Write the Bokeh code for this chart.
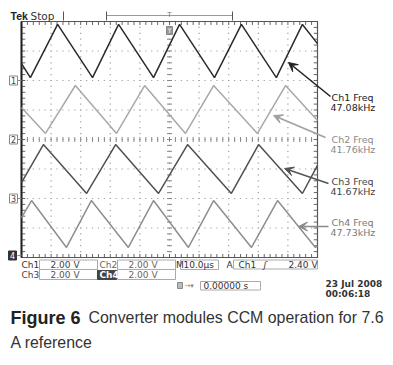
import numpy as np
from bokeh.plotting import figure
from bokeh.models import Range1d, Arrow, VeeHead
from bokeh.core.properties import value
from bokeh.embed import file_html
from bokeh.resources import INLINE

# ---------------- data ----------------
# time in microseconds, amplitude in volts (relative to each channel's ground marker)
ch1_time_us = [0, 3.0, 12.2, 24.0, 32.8, 44.6, 53.4, 65.2, 74.3, 86.1, 94.9, 100]
ch1_volts = [1.15, 0.2, 3.8, 0.2, 3.8, 0.2, 3.8, 0.2, 3.8, 0.2, 3.8, 2.5]

ch2_time_us = [0, 8.1, 18.2, 32.1, 41.6, 55.4, 64.9, 79.7, 89.2, 100]
ch2_volts = [2.17, 0.41, 3.66, 0.41, 3.66, 0.41, 3.66, 0.41, 3.66, 1.29]

ch3_time_us = [0, 7.4, 22.0, 31.8, 46.3, 56.1, 70.9, 80.1, 94.9, 100]
ch3_volts = [1.08, 3.66, 0.34, 3.66, 0.34, 3.66, 0.34, 3.66, 0.34, 2.24]

ch4_time_us = [0, 3.4, 15.2, 23.6, 36.1, 44.6, 56.4, 64.9, 77.7, 86.5, 99.3, 100]
ch4_volts = [2.71, 3.86, 0.68, 3.86, 0.68, 3.86, 0.68, 3.86, 0.68, 3.86, 0.68, 0.8]

channel_names = ["Ch1", "Ch2", "Ch3", "Ch4"]
channel_numbers = ["1", "2", "3", "4"]
channel_freqs = ["47.08kHz", "41.76kHz", "41.67kHz", "47.73kHz"]
channel_ground_div = [2, 0, -2, -4]
channel_volts_per_div = [2.00, 2.00, 2.00, 2.00]
volts_per_div_text = ["2.00 V", "2.00 V", "2.00 V", "2.00 V"]
time_per_div_us = 10.0
time_per_div_text = "10.0\u00b5s"
n_hdiv, n_vdiv = 10, 8
trigger_text = ["A", "Ch1", "\u0283", "2.40 V"]
trigger_offset_text = "0.00000 s"
date_text = "23 Jul  2008"
clock_text = "00:06:18"
caption_bold = "Figure 6"
caption_rest = "Converter modules CCM operation for 7.6"
caption_line2 = "A reference"

# ---------------- layout (page pixels) ----------------
W, H = 393, 360
PAGE = 0
GX0, GY0 = 21, 21
DIV_W, DIV_H = 29.6, 29.5
PX_PER_US = DIV_W / time_per_div_us
CY = GY0 + DIV_H * n_vdiv / 2


def X(px):
    return (px - GX0) / PX_PER_US


def Y(py):
    return (CY - py) / DIV_H


p = figure(width=W, height=H, output_backend="svg", toolbar_location=None,
           x_axis_type=None, y_axis_type=None,
           x_range=Range1d(X(PAGE), X(PAGE + W)), y_range=Range1d(Y(PAGE + H), Y(PAGE)),
           min_border=0, background_fill_color="white", border_fill_color="white")
p.outline_line_color = None

t_end = time_per_div_us * n_hdiv
half = n_vdiv / 2

# dotted graticule
for k in range(1, n_hdiv):
    xs = np.full(int(n_vdiv * 5) + 1, k * time_per_div_us)
    ys = np.linspace(-half, half, int(n_vdiv * 5) + 1)
    p.scatter(xs, ys, marker="square", size=1.2, fill_color="#a0a0a0", line_color=None)
for k in range(1, n_vdiv):
    ys = np.full(n_hdiv * 5 + 1, k - half)
    xs = np.linspace(0, t_end, n_hdiv * 5 + 1)
    p.scatter(xs, ys, marker="square", size=1.2, fill_color="#a0a0a0", line_color=None)

# center cross ticks
minor_x = np.linspace(0, t_end, n_hdiv * 5 + 1)
minor_y = np.linspace(-half, half, n_vdiv * 5 + 1)
p.scatter(minor_x, np.zeros_like(minor_x), marker="dash", size=5, angle=np.pi / 2,
          line_color="#888", line_width=1)
p.scatter(np.full_like(minor_y, t_end / 2), minor_y, marker="dash", size=5,
          line_color="#888", line_width=1)
# border ticks (inward)
p.scatter(minor_x, np.full_like(minor_x, half - 0.05), marker="dash", size=4, angle=np.pi / 2,
          line_color="#666", line_width=1)
p.scatter(minor_x, np.full_like(minor_x, -half + 0.05), marker="dash", size=4, angle=np.pi / 2,
          line_color="#666", line_width=1)
p.scatter(np.full_like(minor_y, 0.6), minor_y, marker="dash", size=4,
          line_color="#666", line_width=1)
p.scatter(np.full_like(minor_y, t_end - 0.6), minor_y, marker="dash", size=4,
          line_color="#666", line_width=1)

# graticule border
p.quad(left=[0], right=[t_end], bottom=[-half], top=[half], fill_color=None,
       line_color="#555", line_width=1.2)
p.segment(x0=[0], y0=[-half], x1=[0], y1=[half], line_color="#222", line_width=2)

# waveforms
colors = ["#2b2b2b", "#a8a8a8", "#505050", "#8e8e8e"]
waves = [(ch1_time_us, ch1_volts), (ch2_time_us, ch2_volts),
         (ch3_time_us, ch3_volts), (ch4_time_us, ch4_volts)]
for (t, v), g, vpd, c in zip(waves, channel_ground_div, channel_volts_per_div, colors):
    p.line(t, [g + vv / vpd for vv in v], line_color=c, line_width=1.5)


def txt(px, py, s, size, color="#333", font="DejaVu Sans", style="normal", align="left"):
    p.text(x=[X(px)], y=[Y(py)], text=[s], text_font=value(font), text_font_size=size,
           text_font_style=style, text_color=color, text_align=align, text_baseline="middle")


def box(x0, y0, x1, y1, line="#aaa", fill=None, lw=1):
    p.quad(left=[X(x0)], right=[X(x1)], top=[Y(y0)], bottom=[Y(y1)],
           line_color=line, fill_color=fill, line_width=lw)


# channel ground markers
for i, (num, g) in enumerate(zip(channel_numbers, channel_ground_div)):
    py = CY - g * DIV_H
    if i == 3:
        py -= 2
        box(8, py - 4.5, 16, py + 4.5, line="#333", fill="#333")
        txt(12, py, num, "8px", color="white", align="center")
    else:
        box(9, py - 4.5, 17, py + 4.5, line="#888", fill="white")
        txt(13, py, num, "8px", color="#444", align="center")
    p.segment(x0=[X(17)], y0=[Y(py)], x1=[0], y1=[Y(py)], line_color="#888", line_width=1)

# top bar
txt(10, 15, "Tek", "10.5px", color="#222", font="Liberation Sans", style="bold")
txt(30, 15, "Stop", "10.5px", color="#333")
p.segment(x0=[X(63)], y0=[Y(11)], x1=[X(63)], y1=[Y(20)], line_color="#555", line_width=1)
p.segment(x0=[X(106)], y0=[Y(15)], x1=[X(232)], y1=[Y(15)], line_color="#999", line_width=1)
p.segment(x0=[X(106), X(232)], y0=[Y(11), Y(11)], x1=[X(106), X(232)], y1=[Y(20), Y(20)],
          line_color="#555", line_width=1)
txt(169, 14, "T", "7px", color="#777", align="center")
box(166, 26, 172, 34, line="#888", fill="#999")
txt(169, 30, "T", "6px", color="white", align="center")

# right-hand frequency callouts
label_colors = ["#222", "#8a8a8a", "#444", "#7a7a7a"]
arrow_colors = ["#222", "#a0a0a0", "#555", "#8a8a8a"]
label_y = [97, 139, 181, 222]
arrow_tail = [(330, 96), (325, 137), (328, 183), (328, 226)]
arrow_tip = [(288, 62), (273, 115), (284, 168), (298, 226)]
for name, f, ly, lc, ac, tl, tp in zip(channel_names, channel_freqs, label_y, label_colors,
                                       arrow_colors, arrow_tail, arrow_tip):
    txt(331, ly, name + " Freq", "9.5px", color=lc)
    txt(330, ly + 10, f, "9.5px", color=lc)
    p.add_layout(Arrow(x_start=X(tl[0]), y_start=Y(tl[1]), x_end=X(tp[0]), y_end=Y(tp[1]),
                       line_color=ac, line_width=1.6,
                       end=VeeHead(size=9, fill_color=ac, line_color=ac)))

# status bar
r1, r2, r3 = 264, 274, 285
box(39, 259.5, 97, 269)
box(117, 259.5, 175, 269)
box(39, 269, 97, 279)
box(117, 269, 175, 279)
box(180, 259.5, 218, 269)
box(233, 259.5, 317, 268.5)
box(200, 281, 260, 289.5)
box(97, 270, 116, 279, line="#444", fill="#444")
txt(21, r1, channel_names[0], "9px", color="#333")
txt(50, r1, volts_per_div_text[0], "9px", color="#444")
txt(99, r1, channel_names[1], "9px", color="#666")
txt(128, r1, volts_per_div_text[1], "9px", color="#666")
txt(21, r2, channel_names[2], "9px", color="#444")
txt(50, r2, volts_per_div_text[2], "9px", color="#555")
txt(99, r2, channel_names[3], "9px", color="white", style="bold")
txt(128, r2, volts_per_div_text[3], "9px", color="#666")
txt(175.5, r1, "M", "9px", color="#333")
txt(183, r1, time_per_div_text, "9px", color="#333")
txt(226, r1, trigger_text[0], "9px", color="#333")
txt(238, r1, trigger_text[1], "9px", color="#333")
txt(263, r1, trigger_text[2], "9px", color="#333", style="italic")
txt(288, r1, trigger_text[3], "9px", color="#333")
box(177, 282, 182, 288, line="#888", fill="#bbb")
txt(184, r3, "\u2192\u25be", "7px", color="#888")
txt(203, r3, trigger_offset_text, "9px", color="#333")
txt(325, 283, date_text, "9px", color="#333", style="bold")
txt(325, 293, clock_text, "9px", color="#333", style="bold")

# caption
txt(10, 317, caption_bold, "18px", color="#222", font="Liberation Sans", style="bold")
txt(88, 317, caption_rest, "15.9px", color="#333", font="Liberation Sans")
txt(10, 342, caption_line2, "15.9px", color="#333", font="Liberation Sans")

open("out.html", "w").write(file_html(p, INLINE))
